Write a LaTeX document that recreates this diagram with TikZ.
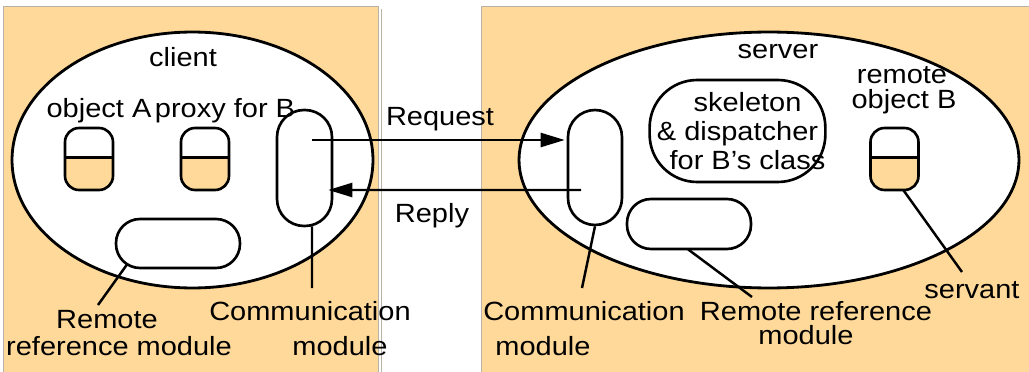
\documentclass[tikz,border=0pt]{standalone}
\usepackage{fontspec}
\setmainfont{Liberation Sans}[FakeStretch=1.1]
\usepackage{tikz}
\usetikzlibrary{calc}
\usetikzlibrary{arrows.meta}
\usetikzlibrary{shapes.geometric}

\definecolor{panel}{RGB}{254,217,153}
\definecolor{rim}{RGB}{185,178,168}

\tikzset{
  host/.style={draw, ellipse, fill=white, line width=1.6pt, inner sep=0pt, minimum height=5.12cm},
  objbox/.style={draw, fill=white, line width=1.5pt, rounded corners=0.28cm, minimum width=0.96cm,
    minimum height=1.24cm, inner sep=0pt,
    path picture={
      \fill[panel, sharp corners] ($(path picture bounding box.south west)!0.52!(path picture bounding box.north west)$)
        rectangle (path picture bounding box.south east);
      \draw[line width=1.5pt, sharp corners] ($(path picture bounding box.south west)!0.52!(path picture bounding box.north west)$)
        -- ($(path picture bounding box.south east)!0.52!(path picture bounding box.north east)$);
    }},
  modbox/.style={draw, fill=white, line width=1.5pt, inner sep=0pt},
  lbl/.style={anchor=base, inner sep=0pt},
  msg/.style={line width=1.4pt, -{Triangle[length=0.48cm,width=0.28cm]}},
  lead/.style={line width=1.4pt}
}

\begin{document}
\begin{tikzpicture}[x=0.02cm, y=-0.02cm, font=\fontsize{15}{16}\selectfont]
\useasboundingbox (0,0) rectangle (1029,372);

% panels
\filldraw[fill=panel, draw=rim] (3,6) rectangle (378,380);
\draw[rim] (381,9) -- (381,372);
\filldraw[fill=panel, draw=rim] (481,6) rectangle (1035,380);

% client side
\node[host, minimum width=7.22cm] (client) at (192.5,160) {};
\node[objbox] (objA) at (89,159) {};
\node[objbox] (proxyB) at (205,159) {};
\node[modbox, rounded corners=0.54cm, minimum width=1.1cm, minimum height=2.32cm] (clientComm) at (304.5,168) {};
\node[modbox, rounded corners=0.48cm, minimum width=2.48cm, minimum height=0.98cm] (clientRRM) at (178,243.5) {};

% server side
\node[host, minimum width=10cm] (server) at (769,160) {};
\node[modbox, rounded corners=0.54cm, minimum width=1.08cm, minimum height=2.3cm] (serverComm) at (595,167.5) {};
\node[modbox, rounded corners=0.95cm, minimum width=3.38cm, minimum height=2.04cm, align=center,
  font=\fontsize{15}{16.6}\selectfont] (skeleton) at (737.5,131)
  {\hspace*{0.4cm}skeleton\\\& dispatcher\\\hspace*{0.4cm}for B’s class};
\node[objbox] (servantB) at (894.5,159) {};
\node[modbox, rounded corners=0.48cm, minimum width=2.48cm, minimum height=1cm] (serverRRM) at (689,224) {};

% messages
\draw[msg] ($(clientComm.center)+(7.5,-28)$) -- ($(serverComm.west)+(-2,-27.5)$);
\draw[msg] ($(serverComm.center)+(-14,22.5)$) -- ($(clientComm.east)+(-5,22)$);

% leaders
\coordinate (clientCommEnd) at (312,288);
\coordinate (clientRRMEnd) at (98,305);
\coordinate (serverCommEnd) at (582,288);
\coordinate (serverRRMEnd) at (752,297);
\coordinate (servantEnd) at (962,272);
\draw[lead] ($(clientComm.south)+(7.5,-1)$) -- (clientCommEnd);
\draw[lead] ($(clientRRM.center)+(-51,21)$) -- (clientRRMEnd);
\draw[lead] (serverComm.south) -- (serverCommEnd);
\draw[lead] ($(serverRRM.south)+(-1,-1)$) -- (serverRRMEnd);
\draw[lead] ($(servantB.south)+(9,-1)$) -- (servantEnd);

% labels
\node[lbl] (clientLbl) at (183,67) {client};
\node[lbl] (objALbl) at (99,117) {object A};
\node[lbl] (proxyLbl) at (225,117) {proxy for B};
\node[lbl] (clientCommLbl) at (310,320) {Communication};
\node[lbl] (clientCommLblB) at (340,355) {module};
\node[lbl] (clientRRMLbl) at (107,328) {Remote};
\node[lbl] (clientRRMLblB) at (119,355) {reference module};
\node[lbl] (requestLbl) at (440,125) {Request};
\node[lbl] (replyLbl) at (432,222) {Reply};
\node[lbl] (serverLbl) at (778,58) {server};
\node[lbl] (remoteLbl) at (902,83) {remote};
\node[lbl] (remoteLblB) at (904,108) {object B};
\node[lbl] (serverCommLbl) at (584,320) {Communication};
\node[lbl] (serverCommLblB) at (543,355) {module};
\node[lbl] (serverRRMLbl) at (816,320) {Remote reference};
\node[lbl] (serverRRMLblB) at (806,344) {module};
\node[lbl] (servantLbl) at (972,298) {servant};
\end{tikzpicture}
\end{document}
